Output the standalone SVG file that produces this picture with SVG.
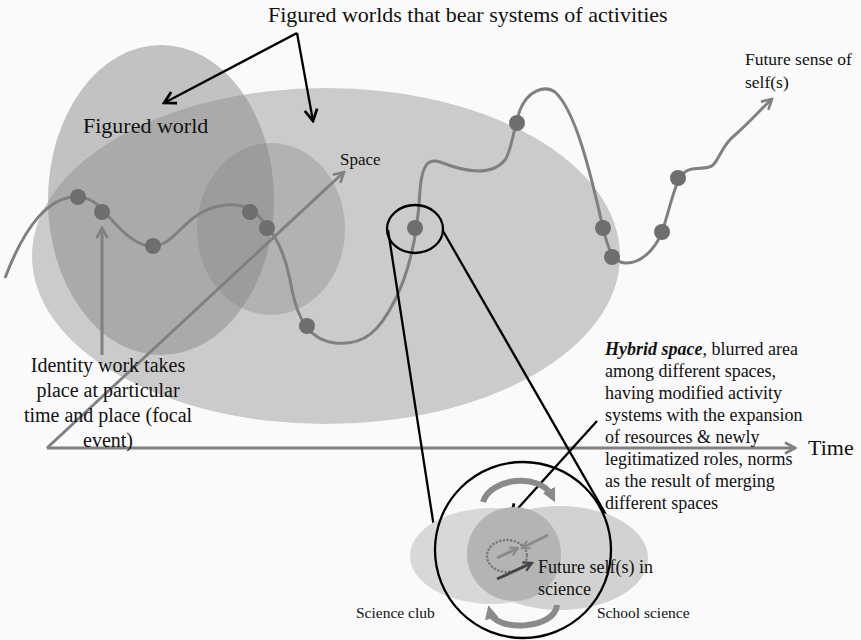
<svg xmlns="http://www.w3.org/2000/svg" width="861" height="640" viewBox="0 0 861 640">
<style>
text{font-family:"Liberation Serif","Times New Roman",serif;fill:#111}
.dot{fill:#6e6e6e}
.ax{stroke:#808080;stroke-width:3;fill:none}
.blk{stroke:#000;stroke-width:2.3;fill:none}
</style>
<defs>
<marker id="ag" markerUnits="userSpaceOnUse" viewBox="0 0 14 14" refX="12" refY="7" markerWidth="14" markerHeight="14" orient="auto">
<path d="M2,1.5 L12,7 L2,12.5" fill="none" stroke="#808080" stroke-width="2.6"/>
</marker>
<marker id="ab" markerUnits="userSpaceOnUse" viewBox="0 0 14 14" refX="12" refY="7" markerWidth="16" markerHeight="16" orient="auto">
<path d="M2,1.5 L12,7 L2,12.5" fill="none" stroke="#000" stroke-width="2.4"/>
</marker>
<marker id="ad" markerUnits="userSpaceOnUse" viewBox="0 0 14 14" refX="12" refY="7" markerWidth="12" markerHeight="12" orient="auto">
<path d="M2,1.5 L12,7 L2,12.5" fill="none" stroke="#444" stroke-width="2.6"/>
</marker>
<marker id="as" markerUnits="userSpaceOnUse" viewBox="0 0 14 14" refX="12" refY="7" markerWidth="11" markerHeight="11" orient="auto">
<path d="M2,1.5 L12,7 L2,12.5" fill="none" stroke="#8a8a8a" stroke-width="2.6"/>
</marker>
<marker id="ac" markerUnits="userSpaceOnUse" viewBox="0 0 14 14" refX="6" refY="7" markerWidth="16" markerHeight="16" orient="auto">
<path d="M0,1 L12,7 L0,13 Z" fill="#8a8a8a"/>
</marker>
</defs>
<rect width="861" height="640" fill="#fafafa"/>

<g id="space-ellipse"><ellipse cx="326" cy="256" rx="294" ry="168" fill="#cbcbcb"/></g>
<g id="figured-world-ellipse"><ellipse cx="161" cy="200" rx="113" ry="155" fill="#898989" fill-opacity="0.5"/></g>
<g id="overlap-circle"><ellipse cx="271" cy="229" rx="74" ry="86" fill="#808080" fill-opacity="0.33"/></g>

<g id="connectors">
<line class="ax" x1="47" y1="448" x2="795" y2="448" marker-end="url(#ag)"/>
<line class="ax" x1="47" y1="448" x2="344" y2="172" marker-end="url(#ag)"/>
<line class="ax" x1="102" y1="355" x2="102" y2="228" marker-end="url(#ag)"/>
<path class="ax" d="M5,278 C25,225 50,195 78,197 C95,198 100,208 110,218 C125,235 140,248 155,246 C175,244 185,215 215,207 C235,202 250,205 262,220 C275,235 285,250 292,290 C298,320 310,340 335,343 C365,346 380,330 395,300 C410,270 418,230 420,190 C422,165 428,158 440,162 C460,170 490,178 505,160 C512,150 513,130 520,110 C528,90 545,85 555,92 C575,110 590,170 603,228 C608,248 612,262 625,263 C640,264 655,250 662,232 C668,215 673,190 680,177 C690,163 705,172 713,165 C720,158 722,145 735,135 C750,122 760,110 772,99" marker-end="url(#ag)"/>
<line class="blk" x1="297" y1="33" x2="164" y2="103" marker-end="url(#ab)"/>
<line class="blk" x1="297" y1="33" x2="313" y2="121" marker-end="url(#ab)"/>
<line class="blk" x1="388" y1="230" x2="444" y2="592"/>
<line class="blk" x1="443" y1="231" x2="609" y2="520"/>
<line class="blk" x1="597" y1="421" x2="511" y2="516" marker-end="url(#ab)"/>
</g>

<g id="dots">
<circle class="dot" cx="78" cy="197" r="8"/>
<circle class="dot" cx="102" cy="212" r="8"/>
<circle class="dot" cx="153" cy="246" r="8"/>
<circle class="dot" cx="250" cy="212" r="8"/>
<circle class="dot" cx="267" cy="228" r="8"/>
<circle class="dot" cx="307" cy="326" r="8"/>
<circle class="dot" cx="415" cy="228" r="8"/>
<circle class="dot" cx="517" cy="123" r="8"/>
<circle class="dot" cx="603" cy="228" r="8"/>
<circle class="dot" cx="612" cy="257" r="8"/>
<circle class="dot" cx="662" cy="232" r="8"/>
<circle class="dot" cx="678" cy="178" r="8"/>
</g>

<g id="focal-lens"><ellipse class="blk" cx="415" cy="229" rx="28" ry="24"/></g>

<g id="inset">
<ellipse cx="492" cy="556" rx="82" ry="48" fill="#d8d8d8"/>
<ellipse cx="560" cy="558" rx="88" ry="52" fill="#d2d2d2"/>
<circle cx="514" cy="554" r="47" fill="#b4b4b4"/>
<ellipse cx="507" cy="556" rx="20" ry="16" fill="none" stroke="#7a7a7a" stroke-width="2.6" stroke-dasharray="0.1 3.6" stroke-linecap="round"/>
<line x1="497" y1="558" x2="518" y2="548" stroke="#8a8a8a" stroke-width="3" marker-end="url(#as)"/>
<line x1="548" y1="535" x2="522" y2="548" stroke="#8a8a8a" stroke-width="3" marker-end="url(#as)"/>
<line x1="497" y1="579" x2="532" y2="563" stroke="#444" stroke-width="3" marker-end="url(#ad)"/>
<path d="M483,502 C490,478 540,472 552,496" fill="none" stroke="#8a8a8a" stroke-width="6" marker-end="url(#ac)"/>
<path d="M557,605 C555,630 495,632 490,612" fill="none" stroke="#8a8a8a" stroke-width="6" marker-end="url(#ac)"/>
<circle class="blk" cx="523" cy="550" r="88"/>
</g>

<g id="labels">
<text x="268" y="22" font-size="22">Figured worlds that bear systems of activities</text>
<text x="83" y="133" font-size="22">Figured world</text>
<text x="340" y="165" font-size="17">Space</text>
<text x="745" y="65" font-size="17.5">Future sense of</text>
<text x="745" y="88" font-size="17.5">self(s)</text>
<text x="808" y="455" font-size="22">Time</text>
<g font-size="20" text-anchor="middle">
<text x="108" y="372">Identity work takes</text>
<text x="108" y="397">place at particular</text>
<text x="108" y="422">time and place (focal</text>
<text x="108" y="447">event)</text>
</g>
<g font-size="18">
<text x="605" y="355"><tspan font-weight="bold" font-style="italic">Hybrid space</tspan>, blurred area</text>
<text x="605" y="377">among different spaces,</text>
<text x="605" y="399">having modified activity</text>
<text x="605" y="421">systems with the expansion</text>
<text x="605" y="443">of resources &amp; newly</text>
<text x="605" y="465">legitimatized roles, norms</text>
<text x="605" y="487">as the result of merging</text>
<text x="605" y="509">different spaces</text>
</g>
<text x="538" y="573" font-size="18">Future self(s) in</text>
<text x="538" y="595" font-size="18">science</text>
<text x="356" y="618" font-size="15.5">Science club</text>
<text x="597" y="618" font-size="15.5">School science</text>
</g>
</svg>
